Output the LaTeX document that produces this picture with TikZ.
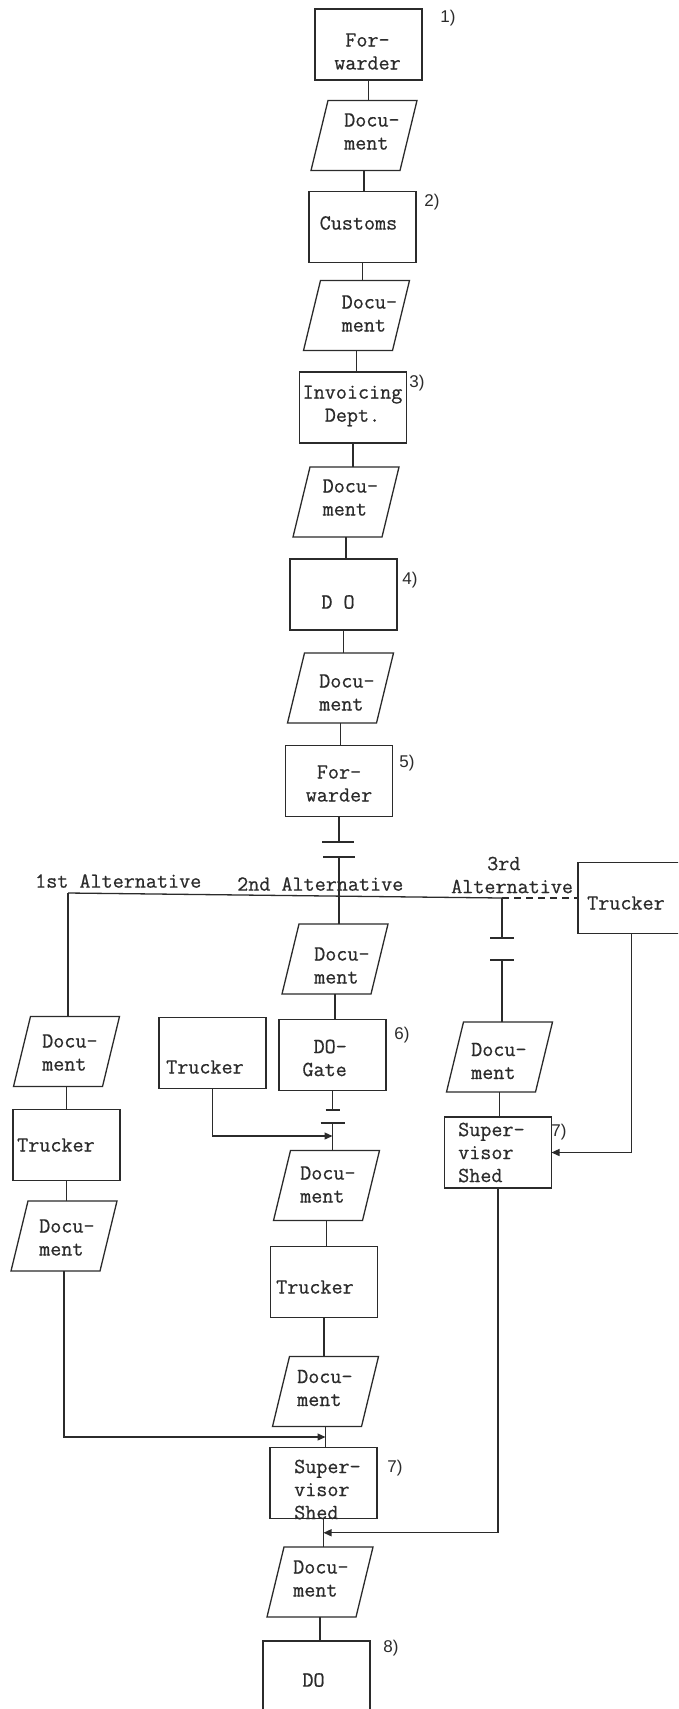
\documentclass[tikz,border=0pt]{standalone}
\usepackage{fontspec}
\setmonofont{Latin Modern Mono}[FakeBold=0.6]
\newfontfamily\numfont{Liberation Sans}
\usetikzlibrary{arrows.meta,calc}
\definecolor{ink}{HTML}{2B2B2B}
% outline of a document symbol drawn inside a named frame node
\newcommand\docpath[1]{\draw[line] (#1.south west) -- ([xshift=17pt]#1.north west)
  -- (#1.north east) -- ([xshift=-17pt]#1.south east) -- cycle;}
\begin{document}
\begin{tikzpicture}[x=1pt,y=-1pt,
  line/.style={draw=ink,line width=1.3pt},
  box/.style={rectangle,draw=ink,line width=1.3pt,minimum width=107pt,minimum height=71pt,inner sep=0pt,outer sep=0pt},
  docframe/.style={rectangle,minimum width=106pt,minimum height=70pt,inner sep=0pt,outer sep=0pt},
  txt/.style={inner sep=0pt,text=ink,font=\ttfamily\fontsize{21.5}{23}\selectfont},
  num/.style={inner sep=0pt,text=ink,font=\numfont\fontsize{17}{20}\selectfont},
  tip/.style={-{Triangle[length=8pt,width=7pt]}}
]
\useasboundingbox (0,0) rectangle (678,1709);
\clip (0,0) rectangle (678,1709);
\fill[white] (0,0) rectangle (678,1709);

% ---- main column ----
\node[box] (f1) at (368.5,44.5) {};
\node[docframe] (d1) at (364,135.5) {};
\node[box] (cust) at (362.5,227) {};
\node[docframe] (d2) at (356.5,315.5) {};
\node[box] (inv) at (353,407.5) {};
\node[docframe] (d3) at (346,502) {};
\node[box] (do1) at (343.5,594.5) {};
\node[docframe] (d4) at (340.5,688) {};
\node[box] (f2) at (339,781) {};
\node[docframe] (d5) at (335,959) {};

% ---- alternatives ----
\node[box] (truckR) at (631.5,898) {};
\node[docframe] (d6) at (66.5,1051.5) {};
\node[box] (truckL) at (66.5,1145) {};
\node[docframe] (d7) at (64,1236) {};
\node[box] (truckor) at (212.5,1053) {};
\node[box] (gate) at (332.5,1055) {};
\node[docframe] (d8) at (499.5,1057) {};
\node[box] (supR) at (498,1152.5) {};
\node[docframe] (d9) at (326.5,1185.5) {};
\node[box] (truckM) at (324,1282) {};
\node[docframe] (d10) at (325.5,1391.5) {};
\node[box] (supB) at (323.5,1483) {};
\node[docframe] (d11) at (320,1582) {};
\node[box] (do2) at (316.5,1676.5) {};

\foreach \d in {d1,d2,d3,d4,d5,d6,d7,d8,d9,d10,d11}{\docpath{\d}}

% ---- texts ----
\node[txt,align=center] (tf1) at (367.5,51.5) {For-\\warder};
\node[txt,anchor=west,align=left] (td1) at (344,131.5) {Docu-\\ment};
\node[txt] (tcust) at (358.5,223) {Customs};
\node[txt,anchor=west,align=left] (td2) at (341.5,313.5) {Docu-\\ment};
\node[txt,align=center] (tinv) at (352.5,406) {Invoicing\\Dept.};
\node[txt,anchor=west,align=left] (td3) at (322.5,497.5) {Docu-\\ment};
\node[txt] (tdo1) at (338,602) {D O};
\node[txt,anchor=west,align=left] (td4) at (319,692.5) {Docu-\\ment};
\node[txt,align=center] (tf2) at (339,783.5) {For-\\warder};
\node[txt,anchor=west,align=left] (td5) at (314,965.5) {Docu-\\ment};
\node[txt,anchor=west] (ttruckR) at (587,903) {Trucker};
\node[txt,anchor=west,align=left] (td6) at (42,1052.5) {Docu-\\ment};
\node[txt,anchor=west] (ttruckL) at (17,1145) {Trucker};
\node[txt,anchor=west,align=left] (td7) at (39,1237.5) {Docu-\\ment};
\node[txt,anchor=west] (ttruckor) at (166,1067) {Trucker};
\node[txt,anchor=east,align=right] (tgate) at (347,1058) {DO-\\Gate};
\node[txt,anchor=west,align=left] (td8) at (471,1061) {Docu-\\ment};
\node[txt,anchor=west,align=left] (tsupR) at (458,1152.5) {Super-\\visor\\Shed};
\node[txt,anchor=west,align=left] (td9) at (300,1184.5) {Docu-\\ment};
\node[txt,anchor=west] (ttruckM) at (276,1287) {Trucker};
\node[txt,anchor=west,align=left] (td10) at (297,1388) {Docu-\\ment};
\node[txt,anchor=west,align=left] (tsupB) at (294,1489.5) {Super-\\visor\\Shed};
\node[txt,anchor=west,align=left] (td11) at (293,1578.5) {Docu-\\ment};
\node[txt] (tdo2) at (313.5,1680) {DO};

\node[txt,anchor=west] (alt1t) at (35,881) {1st Alternative};
\node[txt,anchor=west] (alt2t) at (237,884) {2nd Alternative};
\node[txt,anchor=west,align=left] (alt3t) at (451,875) {\hspace*{36pt}3rd\\Alternative};

% ---- step numbers ----
\node[num] (n1) at (448,18) {1)};
\node[num] (n2) at (432,202) {2)};
\node[num] (n3) at (417,383) {3)};
\node[num] (n4) at (410,580) {4)};
\node[num] (n5) at (407,763) {5)};
\node[num] (n6) at (402,1035) {6)};
\node[num] (n7a) at (559,1132) {7)};
\node[num] (n7b) at (395,1468) {7)};
\node[num] (n8) at (391,1648) {8)};

% ---- main column connectors ----
\draw[line] (f1.south) -- (f1.south |- d1.north);
\draw[line] (d1.south) -- (d1.south |- cust.north);
\draw[line] (cust.south) -- (cust.south |- d2.north);
\draw[line] (d2.south) -- (d2.south |- inv.north);
\draw[line] (inv.south) -- (inv.south |- d3.north);
\draw[line] (d3.south) -- (d3.south |- do1.north);
\draw[line] (do1.south) -- (do1.south |- d4.north);
\draw[line] (d4.south) -- (d4.south |- f2.north);

% break below the second forwarder
\coordinate (bA1) at (339,842);
\coordinate (bA2) at (339,857);
\draw[line] (f2.south) -- (bA1);
\draw[line] ([xshift=-17pt]bA1) -- ([xshift=15pt]bA1);
\draw[line] ([xshift=-16pt]bA2) -- ([xshift=16pt]bA2);
\draw[line] (bA2) -- (bA2 |- d5.north);

% line of alternatives
\coordinate (alt1) at (68,893);
\coordinate (alt3) at (502,898);
\draw[line] (alt1) -- (alt3);
\draw[line,dash pattern=on 7pt off 5pt] (alt3) -- (alt3 -| truckR.west);
\draw[line] (alt1) -- (alt1 |- d6.north);

% first alternative
\draw[line] (d6.south) -- (d6.south |- truckL.north);
\draw[line] (truckL.south) -- (truckL.south |- d7.north);

% second alternative
\draw[line] (d5.south) -- (d5.south |- gate.north);
\coordinate (bC1) at (332.5,1110);
\coordinate (bC2) at (332.5,1123);
\draw[line] (gate.south) -- (bC1);
\draw[line] ([xshift=-7pt]bC1) -- ([xshift=7pt]bC1);
\draw[line] ([xshift=-12pt]bC2) -- ([xshift=12pt]bC2);
\draw[line] (bC2) -- (bC2 |- d9.north);
\coordinate (jC) at (332.5,1136);
\draw[line,tip] (truckor.south) |- (jC);
\draw[line] (d9.south) -- (d9.south |- truckM.north);
\draw[line] (truckM.south) -- (truckM.south |- d10.north);
\draw[line] (d10.south) -- (d10.south |- supB.north);
\draw[line] (supB.south) -- (supB.south |- d11.north);
\draw[line] (d11.south) -- (d11.south |- do2.north);

% third alternative
\coordinate (bB1) at (502,938);
\coordinate (bB2) at (502,960);
\draw[line] (alt3) -- (bB1);
\draw[line] ([xshift=-12pt]bB1) -- ([xshift=12pt]bB1);
\draw[line] ([xshift=-12pt]bB2) -- ([xshift=12pt]bB2);
\draw[line] (bB2) -- (bB2 |- d8.north);
\draw[line] (d8.south) -- (d8.south |- supR.north);
\draw[line,tip] (truckR.south) |- (supR.east);

% joins into the lower column
\coordinate (jL) at ($(d10.south)!0.5!(d10.south |- supB.north)$);
\draw[line,tip] (d7.south) |- (jL);
\coordinate (jR) at ($(supB.south)!0.5!(supB.south |- d11.north)$);
\draw[line,tip] (supR.south) |- (jR);
\end{tikzpicture}
\end{document}
